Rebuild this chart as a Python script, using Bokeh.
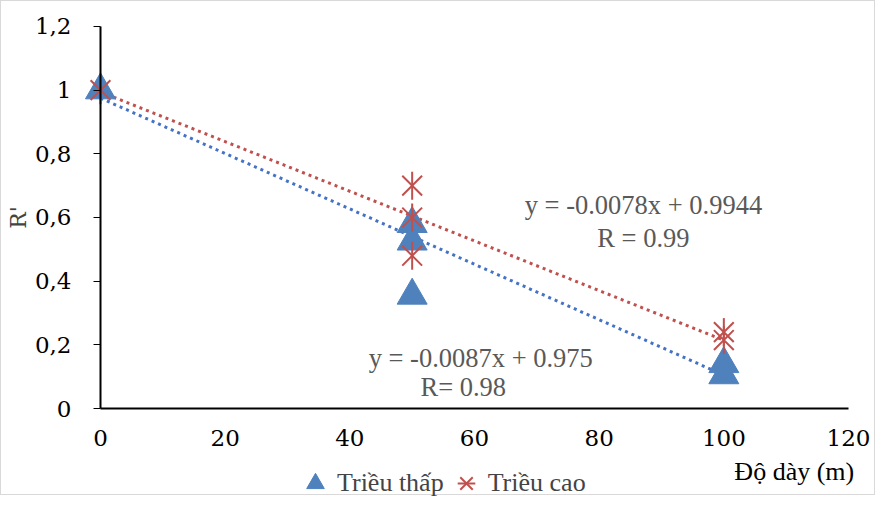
import math
from bokeh.plotting import figure
from bokeh.models import Range1d, Label, Legend, LegendItem, FixedTicker
from bokeh.embed import file_html
from bokeh.resources import INLINE

# Data
low_x = [0, 50, 50, 50, 100, 100]
low_y = [1.0, 0.58, 0.525, 0.355, 0.14, 0.105]
high_x = [0, 50, 50, 50, 100, 100]
high_y = [1.0, 0.70, 0.60, 0.48, 0.24, 0.215]
low_fit = (-0.0087, 0.975)
high_fit = (-0.0078, 0.9944)
fit_x = [0, 100]
x_ticks = [0, 20, 40, 60, 80, 100, 120]
y_ticks = [0, 0.2, 0.4, 0.6, 0.8, 1.0, 1.2]
y_tick_labels = ["0", "0,2", "0,4", "0,6", "0,8", "1", "1,2"]

SERIF = "Liberation Serif"
TICKF = "DejaVu Serif"

# the frame covers the whole canvas; axes sit at fixed data locations
p = figure(width=875, height=495, output_backend="svg", toolbar_location=None,
           x_range=Range1d(-15.88, 124.49), y_range=Range1d(-0.2764, 1.2785),
           min_border_left=0, min_border_right=0, min_border_top=0, min_border_bottom=0)
p.styles = {"border": "1px solid #d9d9d9"}
p.outline_line_color = None
p.xgrid.visible = False
p.ygrid.visible = False

# trend lines
p.line(fit_x, [low_fit[1] + low_fit[0] * x for x in fit_x], line_color="#4472C4",
       line_width=3, line_dash="3 4")
p.line(fit_x, [high_fit[1] + high_fit[0] * x for x in fit_x], line_color="#C0504D",
       line_width=3, line_dash="3 4")

r_low = p.scatter(low_x, low_y, marker="triangle", size=30, fill_color="#4F81BD",
                  line_color="#4F81BD")
r_hx = p.scatter(high_x, high_y, marker="x", size=28, line_color="#C0504D", line_width=2)
r_hv = p.scatter(high_x, high_y, marker="dash", size=28, angle=math.pi / 2,
                 line_color="#C0504D", line_width=2)

# axes
for ax in (p.xaxis[0], p.yaxis[0]):
    ax.axis_line_color = "black"
    ax.axis_line_width = 2
    ax.major_label_text_font = TICKF
    ax.major_label_text_font_size = "23px"
    ax.major_label_text_color = "black"
    ax.minor_tick_line_color = None

p.xaxis.ticker = FixedTicker(ticks=x_ticks)
p.xaxis.fixed_location = 0
p.xaxis.bounds = (0, 120)
p.xaxis.major_tick_line_color = None
p.xaxis.major_label_standoff = 15

p.yaxis.fixed_location = 0
p.yaxis.bounds = (0, 1.2)
p.yaxis.ticker = FixedTicker(ticks=y_ticks)
p.yaxis.major_label_overrides = {t: l for t, l in zip(y_ticks, y_tick_labels)}
p.yaxis.major_tick_out = 7
p.yaxis.major_tick_in = 0
p.yaxis.major_tick_line_width = 1
p.yaxis.major_label_standoff = 22
p.yaxis.axis_label = "R'"
p.yaxis.axis_label_text_font = TICKF
p.yaxis.axis_label_text_font_style = "normal"
p.yaxis.axis_label_text_font_size = "22px"
p.yaxis.axis_label_standoff = 1

# equations
eq_style = dict(text_font=SERIF, text_font_size="26.5px", text_color="#595959",
                text_align="center", text_baseline="middle")
p.add_layout(Label(x=87.1, y=0.64, text="y = -0.0078x + 0.9944", **eq_style))
p.add_layout(Label(x=87.1, y=0.536, text="R = 0.99", **eq_style))
p.add_layout(Label(x=61.0, y=0.158, text="y = -0.0087x + 0.975", **eq_style))
p.add_layout(Label(x=58.2, y=0.068, text="R= 0.98", **eq_style))

# x-axis title
p.add_layout(Label(x=111.3, y=-0.198, text="Độ dày (m)", text_font=SERIF,
                   text_font_size="26px", text_color="black",
                   text_align="center", text_baseline="middle"))

legend = Legend(items=[LegendItem(label="Triều thấp", renderers=[r_low]),
                       LegendItem(label="Triều cao", renderers=[r_hx, r_hv])],
                orientation="horizontal", location=(292, -12),
                label_text_font=SERIF, label_text_font_size="26px",
                glyph_width=44, glyph_height=50, label_standoff=0, spacing=0,
                border_line_color=None, background_fill_alpha=0, padding=4, margin=0)
p.add_layout(legend, "center")

open("out.html", "w").write(file_html(p, INLINE))
